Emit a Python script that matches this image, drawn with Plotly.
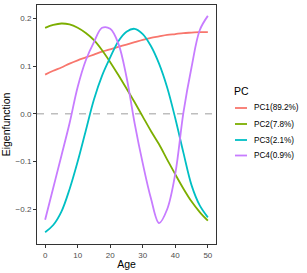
import plotly.graph_objects as go

ages = [0, 2.5, 5, 7.5, 10, 12.5, 15, 17.5, 20, 22.5, 25, 27.5, 30, 32.5, 35, 37.5, 40, 42.5, 45, 47.5, 50]
pc1 = [0.082, 0.090, 0.097, 0.105, 0.112, 0.118, 0.124, 0.130, 0.135, 0.140, 0.145, 0.150, 0.155, 0.159, 0.162, 0.165, 0.167, 0.169, 0.170, 0.171, 0.171]
pc2 = [0.180, 0.186, 0.189, 0.187, 0.180, 0.169, 0.154, 0.133, 0.108, 0.081, 0.053, 0.024, -0.006, -0.036, -0.064, -0.096, -0.127, -0.157, -0.184, -0.206, -0.224]
pc3 = [-0.248, -0.233, -0.205, -0.158, -0.100, -0.035, 0.030, 0.080, 0.118, 0.152, 0.172, 0.178, 0.167, 0.142, 0.105, 0.055, -0.010, -0.082, -0.150, -0.192, -0.217]
pc4 = [-0.222, -0.155, -0.088, -0.020, 0.056, 0.112, 0.150, 0.180, 0.178, 0.147, 0.077, -0.020, -0.104, -0.177, -0.229, -0.200, -0.125, 0.003, 0.098, 0.175, 0.205]

series_names = ["PC1(89.2%)", "PC2(7.8%)", "PC3(2.1%)", "PC4(0.9%)"]
series_values = [pc1, pc2, pc3, pc4]
colors = ["#F8766D", "#7CAE00", "#00BFC4", "#C77CFF"]
legend_title = "PC"

x_ticks = [0, 10, 20, 30, 40, 50]
y_ticks = [-0.2, -0.1, 0.0, 0.1, 0.2]

FONT = "Liberation Sans, Arial, Helvetica, sans-serif"

W, H = 307, 273
ML, MR, MT, MB = 37, 91, 5, 29
PW, PH = W - ML - MR, H - MT - MB


def px_x(p):
    return (p - ML) / PW


def px_y(p):
    return (H - MB - p) / PH


fig = go.Figure()
for name, vals, col in zip(series_names, series_values, colors):
    fig.add_trace(go.Scatter(
        x=ages, y=vals, mode="lines", name=name, showlegend=False,
        line=dict(color=col, width=1.8, shape="spline", smoothing=1.0),
    ))

fig.add_hline(y=0, line=dict(color="#BEBEBE", width=1.4, dash="7px,7px"), layer="below")

# manual ggplot-style legend
fig.add_annotation(xref="paper", yref="paper", x=px_x(232), y=px_y(91),
                   text=legend_title, showarrow=False, xanchor="left", yanchor="middle",
                   font=dict(family=FONT, size=10.5, color="#000000"))
entry_y = [108, 124, 140, 155.5]
for name, col, ey in zip(series_names, colors, entry_y):
    fig.add_shape(type="line", xref="paper", yref="paper",
                  x0=px_x(235), x1=px_x(247), y0=px_y(ey), y1=px_y(ey),
                  line=dict(color=col, width=1.8))
    fig.add_annotation(xref="paper", yref="paper", x=px_x(252), y=px_y(ey),
                       text=name, showarrow=False, xanchor="left", yanchor="middle",
                       font=dict(family=FONT, size=8.2, color="#000000"))

axis_common = dict(
    showgrid=False, zeroline=False, showline=True, mirror=True,
    linecolor="#333333", linewidth=1,
    ticks="outside", ticklen=3, tickcolor="#333333", tickwidth=1,
    tickfont=dict(family=FONT, size=8, color="#4D4D4D"),
    title_font=dict(family=FONT, size=10.5, color="#000000"),
    automargin=False,
)

fig.update_xaxes(range=[-2.5, 52.5], tickvals=x_ticks, title_text="Age",
                 title_standoff=2, **axis_common)
fig.update_yaxes(range=[-0.2728, 0.2278], tickvals=y_ticks, tickformat=".1f",
                 title_text="Eigenfunction", title_standoff=4, **axis_common)

fig.update_layout(
    width=W, height=H,
    margin=dict(l=ML, r=MR, t=MT, b=MB, autoexpand=False),
    paper_bgcolor="white", plot_bgcolor="white",
    font=dict(family=FONT),
    showlegend=False,
)

fig.write_html("out.html", config={"displayModeBar": False},
               post_script="document.body.style.margin='0';")
